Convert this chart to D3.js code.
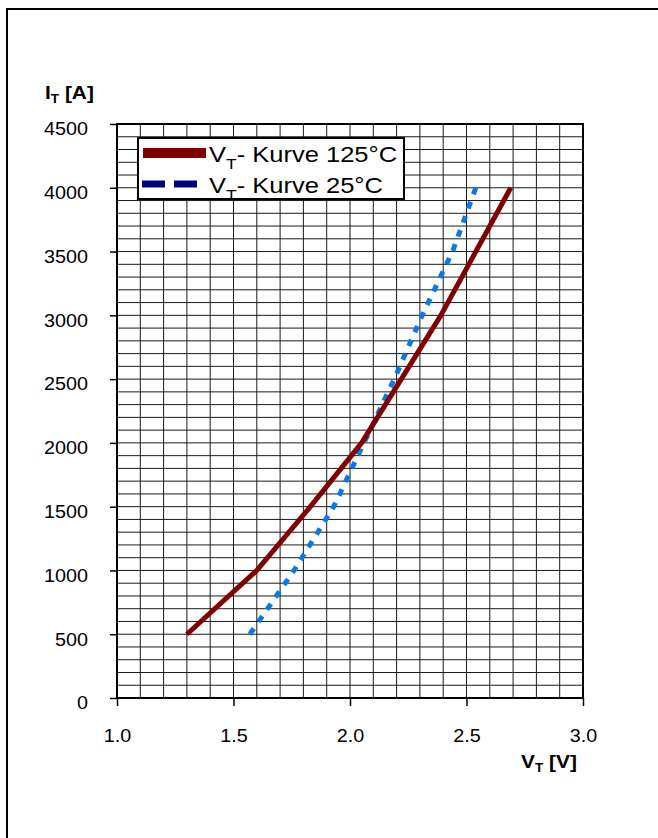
<!DOCTYPE html>
<html>
<head>
<meta charset="utf-8">
<script src="https://cdn.jsdelivr.net/npm/d3@7"></script>
<style>
  body { margin: 0; background: #fff; }
  svg { display: block; font-family: "Liberation Sans", Arial, sans-serif; }
</style>
</head>
<body>
<div id="content"></div>
<script>
// forward current I_T [A] and on-state voltage V_T [V]
var current = [500, 1000, 1500, 2000, 2500, 3000, 3500, 4000];
var volt125 = [1.30, 1.60, 1.83, 2.05, 2.22, 2.39, 2.54, 2.69];
var volt25  = [1.57, 1.76, 1.93, 2.06, 2.19, 2.31, 2.44, 2.54];

var xTicks = [1.0, 1.5, 2.0, 2.5, 3.0];
var yTicks = [0, 500, 1000, 1500, 2000, 2500, 3000, 3500, 4000, 4500];
var legendNames = ["- Kurve 125°C", "- Kurve 25°C"];

// text in the original is a bit wider than the font
var stretch = 1.13;

var svg = d3.select('#content')
  .append('svg')
  .attr('width', 658).attr('height', 838);

// page frame (only top and left edges show)
svg.append("line").attr("x1", 6).attr("x2", 658).attr("y1", 9).attr("y2", 9)
  .attr("stroke", "#000").attr("stroke-width", 2);
svg.append("line").attr("x1", 7).attr("x2", 7).attr("y1", 8).attr("y2", 838)
  .attr("stroke", "#000").attr("stroke-width", 2);

var x = d3.scaleLinear().domain([1, 3]).range([117, 583]);
var y = d3.scaleLinear().domain([0, 4500]).range([698, 124]);

// grid
var grid = svg.append("g").attr("stroke", "#1a1a1a").attr("stroke-width", 1);
grid.selectAll(".vx").data(x.ticks(20)).enter().append("line")
  .attr("x1", function(d) { return x(d); }).attr("x2", function(d) { return x(d); })
  .attr("y1", y(0)).attr("y2", y(4500));
grid.selectAll(".hy").data(y.ticks(45)).enter().append("line")
  .attr("y1", function(d) { return y(d); }).attr("y2", function(d) { return y(d); })
  .attr("x1", x(1)).attr("x2", x(3));

// axes
var yAxis = svg.append("g").attr("transform", "translate(" + x(1) + ",0)")
  .call(d3.axisLeft(y).tickValues(yTicks).tickSize(7).tickPadding(22).tickFormat(d3.format("d")));
yAxis.select(".domain").remove();
yAxis.selectAll("line").attr("stroke", "#000").attr("stroke-width", 1.5);
yAxis.selectAll("text").attr("font-size", 17.5).attr("font-family", null).attr("fill", "#000")
  .attr("dy", "0.62em").attr("x", -29 / stretch).attr("transform", "scale(" + stretch + ",1)");

var xAxis = svg.append("g").attr("transform", "translate(0," + y(0) + ")")
  .call(d3.axisBottom(x).tickValues(xTicks).tickSize(8).tickPadding(24).tickFormat(d3.format(".1f")));
xAxis.select(".domain").remove();
xAxis.selectAll("line").attr("stroke", "#000").attr("stroke-width", 1.5);
xAxis.selectAll("text").attr("font-size", 17.5).attr("font-family", null).attr("fill", "#000")
  .attr("transform", "scale(" + stretch + ",1)");

// plot border
svg.append("rect")
  .attr("x", x(1)).attr("y", y(4500))
  .attr("width", x(3) - x(1)).attr("height", y(0) - y(4500))
  .attr("fill", "none").attr("stroke", "#000").attr("stroke-width", 2);

// curves
var line = d3.line()
  .x(function(d) { return x(d[0]); })
  .y(function(d) { return y(d[1]); });

svg.append("path")
  .datum(d3.zip(volt25, current))
  .attr("d", line)
  .attr("fill", "none").attr("stroke", "#0a78e6").attr("stroke-width", 5)
  .attr("stroke-dasharray", "7,8");

svg.append("path")
  .datum(d3.zip(volt125, current))
  .attr("d", line)
  .attr("fill", "none").attr("stroke", "#800000").attr("stroke-width", 5)
  .attr("stroke-linejoin", "round");

// axis titles
function title(px, py, main, sub, rest) {
  var t = svg.append("text")
    .attr("transform", "translate(" + px + "," + py + ") scale(" + stretch + ",1)")
    .attr("font-size", 18.5).attr("font-weight", "bold");
  t.append("tspan").text(main);
  t.append("tspan").attr("font-size", 12).attr("dy", 4).text(sub);
  t.append("tspan").attr("dy", -4).text(rest);
}
title(45, 99, "I", "T", " [A]");
title(521, 768, "V", "T", " [V]");

// legend
var legend = svg.append("g");
legend.append("rect").attr("x", 138).attr("y", 138).attr("width", 266).attr("height", 61)
  .attr("fill", "#fff").attr("stroke", "#000").attr("stroke-width", 2);
legend.append("line").attr("x1", 143).attr("x2", 206).attr("y1", 153).attr("y2", 153)
  .attr("stroke", "#800000").attr("stroke-width", 10);
legend.append("line").attr("x1", 142).attr("x2", 198).attr("y1", 184).attr("y2", 184)
  .attr("stroke", "#000080").attr("stroke-width", 7).attr("stroke-dasharray", "23,9");

legendNames.forEach(function(name, i) {
  var t = legend.append("text")
    .attr("transform", "translate(209," + (162 + i * 31) + ") scale(1.16,1)")
    .attr("font-size", 22);
  t.append("tspan").text("V");
  t.append("tspan").attr("font-size", 15).attr("dy", 7).text("T");
  t.append("tspan").attr("dy", -7).text(name);
});
</script>
</body>
</html>
